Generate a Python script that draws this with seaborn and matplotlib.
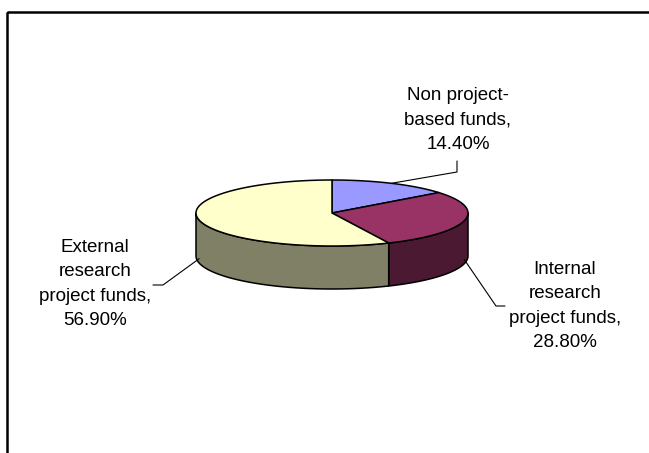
import numpy as np
import matplotlib
matplotlib.use("Agg")
import matplotlib.pyplot as plt
from matplotlib.patches import Polygon, Rectangle
import seaborn as sns

# ---- data ----
categories = ["Non project-\nbased funds", "Internal\nresearch\nproject funds", "External\nresearch\nproject funds"]
shares = [14.4, 28.8, 56.9]
top_colors = ["#9999FF", "#993366", "#FFFFCC"]
side_colors = ["#4C4C80", "#4C1933", "#808066"]

sns.set_theme(style="white")
plt.rcParams['font.family'] = ['Liberation Sans', 'DejaVu Sans']

W, H = 649, 453
fig = plt.figure(figsize=(W / 100, H / 100), dpi=100)
ax = fig.add_axes([0, 0, 1, 1])
ax.set_xlim(0, W)
ax.set_ylim(H, 0)
ax.axis("off")

# geometry (pixels)
cx, cy, rx, ry, depth = 332, 213, 136, 33, 43
edge_kw = dict(edgecolor="black", linewidth=1.1, joinstyle="round")


def pt(theta_deg, dy=0.0):
    t = np.deg2rad(theta_deg)
    return cx + rx * np.cos(t), cy - ry * np.sin(t) + dy


def arc(a0, a1, dy=0.0, n=120):
    th = np.linspace(a0, a1, n)
    return np.array([pt(t, dy) for t in th])


vals = np.array(shares, dtype=float)
frac = vals / vals.sum()
cum = np.concatenate([[0], np.cumsum(frac)])
starts = 90 - 360 * cum[:-1]
ends = 90 - 360 * cum[1:]

# sides (front half: angles between -180 and 0)
for s, e, col in zip(starts, ends, side_colors):
    for shift in (0, 360, -360):
        hi = min(s + shift, 0)
        lo = max(e + shift, -180)
        if hi > lo:
            top = arc(hi, lo)
            bot = arc(lo, hi, dy=depth)
            ax.add_patch(Polygon(np.vstack([top, bot]), closed=True,
                                 facecolor=col, zorder=2, **edge_kw))

# top faces
for s, e, col in zip(starts, ends, top_colors):
    pts = np.vstack([[cx, cy], arc(s, e)])
    ax.add_patch(Polygon(pts, closed=True, facecolor=col, zorder=3, **edge_kw))

# labels and leaders
mids = (starts + ends) / 2
label_texts = [f"{c},\n{v:.2f}%" for c, v in zip(categories, shares)]
label_pos = [(458, 120), (565, 306), (95, 284)]
leader_bends = [[(457, 172), (457, 161)],
                [(496, 306), (505, 306)],
                [(163, 285), (153, 285)]]
for i, (txt, (tx, ty)) in enumerate(zip(label_texts, label_pos)):
    m = mids[i]
    dy = 0 if np.sin(np.deg2rad(m)) > 0 else depth * 0.9
    ax0 = pt(m, dy)
    xs = [ax0[0]] + [p[0] for p in leader_bends[i]]
    ys = [ax0[1]] + [p[1] for p in leader_bends[i]]
    ax.plot(xs, ys, color="black", linewidth=0.8, zorder=4)
    ax.text(tx, ty, txt, ha="center", va="center", fontsize=13.5,
            linespacing=1.55, color="black", zorder=5)

# chart frame (extends past right/bottom edges)
ax.add_patch(Rectangle((6.5, 12), 700, 500, fill=False,
                       edgecolor="black", linewidth=1.8, zorder=6))

fig.savefig("out.png", dpi=100)
